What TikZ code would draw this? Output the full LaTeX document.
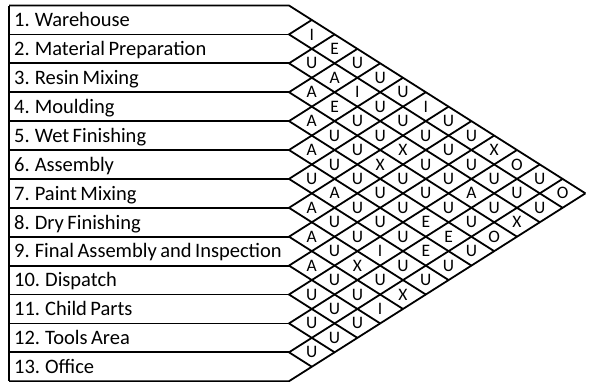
\documentclass[tikz,border=0pt]{standalone}
\usepackage{fontspec}
\setmainfont{Carlito}[WordSpace=0.75]

% geometry of the chart (1 unit = 1pt, y grows downwards)
\def\xL{9}      % left edge of the label column
\def\xO{289}    % x of the "<" vertices
\def\yO{5.5}    % top edge
\def\rh{28.9}   % row height
\def\hw{22.8}   % half width of a diamond cell

% one diagonal column of relationship codes: #1 = distance j-i, #2 = codes for i=1,2,...
\newcommand\relcol[2]{%
  \foreach \c [count=\i] in {#2} {%
    \pgfmathtruncatemacro\j{\i+#1}%
    \node[relcode] (c\i-\j) at ({\xO+#1*\hw}, {\yO+((\i+\j)/2-0.5)*\rh}) {\c};
  }}

\begin{document}
\begin{tikzpicture}[x=1pt,y=-1pt,
  gridline/.style={line width=1.8pt, line join=miter, line cap=butt},
  rowlabel/.style={anchor=base west, inner sep=0pt, font=\fontsize{20.5}{22}\selectfont},
  relcode/.style={inner sep=0pt, font=\fontsize{17.5}{18}\selectfont}]
\useasboundingbox (0,0) rectangle (589,381);

% boundary points of the rows and ends of the diagonals
\foreach \k in {0,...,13} {
  \coordinate (b\k) at (\xL, {\yO+\k*\rh});
  \coordinate (p\k) at (\xO, {\yO+\k*\rh});
  \coordinate (u\k) at ({\xO+\k*\hw}, {\yO+\k*\rh/2});
  \coordinate (l\k) at ({\xO+(13-\k)*\hw}, {\yO+(13+\k)*\rh/2});
}

% label column and triangular grid
\draw[gridline] (b0) -- (b13);
\draw[gridline] (b0) -- (p0) -- (l0);
\draw[gridline] (b13) -- (p13) -- (u13);
\foreach \k in {1,...,12} {
  \draw[gridline] (b\k) -- (p\k);
  \draw[gridline] (u\k) -- (p\k) -- (l\k);
}

% department names
\foreach \i/\t in {1/{1. Warehouse}, 2/{2. Material Preparation}, 3/{3. Resin Mixing},
    4/{4. Moulding}, 5/{5. Wet Finishing}, 6/{6. Assembly}, 7/{7. Paint Mixing},
    8/{8. Dry Finishing}, 9/{9. Final Assembly and Inspection}, 10/{10. Dispatch},
    11/{11. Child Parts}, 12/{12. Tools Area}, 13/{13. Office}}
  \node[rowlabel] (r\i) at (14, {\yO+(\i-0.5)*\rh+6.8}) {\t};

% relationship codes
\relcol{1}{I,U,A,A,A,U,A,A,A,U,U,U}
\relcol{2}{E,A,E,U,U,A,U,U,U,U,U}
\relcol{3}{U,I,U,U,U,U,U,X,U,U}
\relcol{4}{U,U,U,X,U,U,I,U,I}
\relcol{5}{U,U,X,U,U,U,U,X}
\relcol{6}{I,U,U,U,E,E,U}
\relcol{7}{U,U,U,U,E,U}
\relcol{8}{U,U,A,U,U}
\relcol{9}{X,U,U,O}
\relcol{10}{O,U,X}
\relcol{11}{U,U}
\relcol{12}{O}
\end{tikzpicture}
\end{document}
